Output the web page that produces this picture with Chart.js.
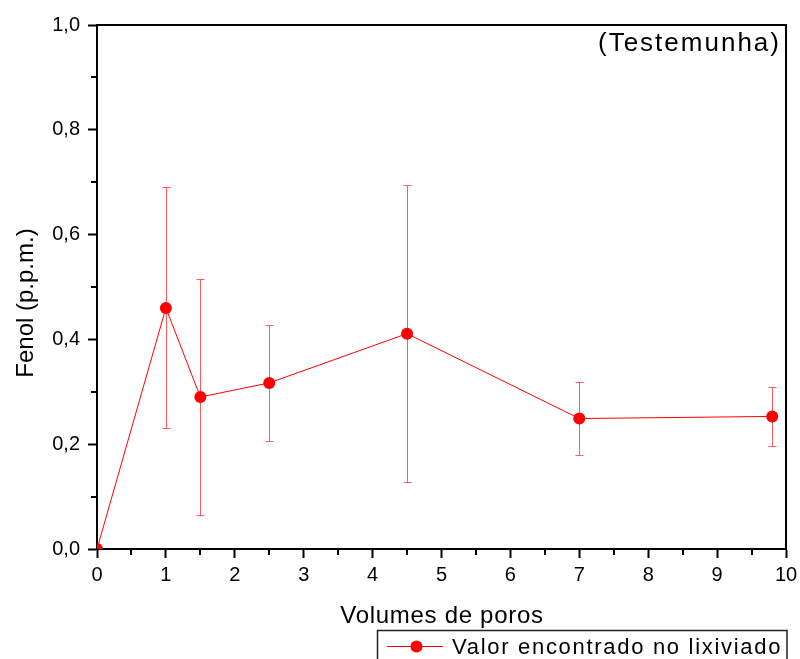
<!DOCTYPE html>
<html>
<head>
<meta charset="utf-8">
<title>Fenol (Testemunha)</title>
<script src="https://cdn.jsdelivr.net/npm/chart.js@4.4.1/dist/chart.umd.min.js"></script>
<style>
  html, body { margin: 0; padding: 0; background: #fff; }
  #wrap { width: 800px; height: 659px; }
</style>
</head>
<body>
<div id="wrap"><canvas id="chart" width="800" height="659"></canvas></div>
<script>
// Pore volumes (x) and phenol concentration in the leachate (p.p.m.)
const poreVolumes = [0, 1, 1.5, 2.5, 4.5, 7, 9.8];
const fenolMean   = [0, 0.46, 0.29, 0.317, 0.411, 0.249, 0.253];
const fenolError  = [0, 0.23, 0.226, 0.11, 0.283, 0.069, 0.057];

const seriesLabel = 'Valor encontrado no lixiviado';
const panelLabel  = '(Testemunha)';
const xTitle = 'Volumes de poros';
const yTitle = 'Fenol (p.p.m.)';

const FONT = '"Liberation Sans", Arial, Helvetica, sans-serif';
const RED = '#ff0000';
const ERR = 'rgba(255, 40, 40, 0.75)';

const points = poreVolumes.map((x, i) => ({ x: x, y: fenolMean[i] }));

// Vertical error bars with caps, drawn under the markers
const errorBars = {
  id: 'errorBars',
  beforeDatasetsDraw(chart) {
    const { ctx, scales: { x, y }, chartArea } = chart;
    ctx.save();
    ctx.beginPath();
    ctx.rect(chartArea.left, chartArea.top, chartArea.right - chartArea.left, chartArea.bottom - chartArea.top);
    ctx.clip();
    ctx.strokeStyle = ERR;
    ctx.lineWidth = 1;
    const cap = 4;
    poreVolumes.forEach((v, i) => {
      const e = fenolError[i];
      if (!e) return;
      const px = Math.round(x.getPixelForValue(v)) + 0.5;
      const top = Math.round(y.getPixelForValue(fenolMean[i] + e)) + 0.5;
      const bot = Math.round(y.getPixelForValue(fenolMean[i] - e)) + 0.5;
      ctx.beginPath();
      ctx.moveTo(px, top); ctx.lineTo(px, bot);
      ctx.moveTo(px - cap, top); ctx.lineTo(px + cap, top);
      ctx.moveTo(px - cap, bot); ctx.lineTo(px + cap, bot);
      ctx.stroke();
    });
    ctx.restore();
  }
};

// Frame, minor ticks, axis titles, panel label and legend box
const decorations = {
  id: 'decorations',
  afterDraw(chart) {
    const { ctx, scales: { x, y }, chartArea: a } = chart;
    ctx.save();
    ctx.strokeStyle = '#000';
    ctx.lineWidth = 2;
    ctx.beginPath();
    ctx.moveTo(a.left, a.top); ctx.lineTo(a.right, a.top); ctx.lineTo(a.right, a.bottom);
    ctx.stroke();

    // minor ticks
    ctx.lineWidth = 2;
    ctx.beginPath();
    for (let v = 0.5; v < 10; v += 1) {
      const px = Math.round(x.getPixelForValue(v));
      ctx.moveTo(px, a.bottom); ctx.lineTo(px, a.bottom + 6);
    }
    for (let v = 0.1; v < 1; v += 0.2) {
      const py = Math.round(y.getPixelForValue(v));
      ctx.moveTo(a.left, py); ctx.lineTo(a.left - 6, py);
    }
    ctx.stroke();

    ctx.fillStyle = '#000';
    ctx.textBaseline = 'alphabetic';

    // panel label
    ctx.font = '26px ' + FONT;
    ctx.letterSpacing = '2px';
    ctx.textAlign = 'left';
    ctx.fillText(panelLabel, 598, 51);

    // x title
    ctx.font = '24px ' + FONT;
    ctx.letterSpacing = '0.7px';
    ctx.textAlign = 'center';
    ctx.fillText(xTitle, 442, 623);

    // y title
    ctx.save();
    ctx.translate(33, 303);
    ctx.rotate(-Math.PI / 2);
    ctx.letterSpacing = '0px';
    ctx.font = '24px ' + FONT;
    ctx.textAlign = 'center';
    ctx.fillText(yTitle, 0, 0);
    ctx.restore();

    // legend
    ctx.lineWidth = 1.5;
    ctx.strokeStyle = '#222';
    ctx.strokeRect(377.5, 630.5, 409.5, 40);
    ctx.strokeStyle = RED;
    ctx.lineWidth = 1;
    ctx.beginPath();
    ctx.moveTo(387, 646.5); ctx.lineTo(443, 646.5);
    ctx.stroke();
    ctx.fillStyle = RED;
    ctx.beginPath();
    ctx.arc(416.5, 646.5, 6, 0, Math.PI * 2);
    ctx.fill();
    ctx.fillStyle = '#000';
    ctx.font = '22px ' + FONT;
    ctx.letterSpacing = '1.7px';
    ctx.textAlign = 'left';
    ctx.fillText(chart.data.datasets[0].label, 452, 654);
    ctx.restore();
  }
};

const fmt = v => v.toFixed(1).replace('.', ',');

new Chart(document.getElementById('chart'), {
  type: 'line',
  data: {
    datasets: [{
      label: seriesLabel,
      data: points,
      borderColor: RED,
      backgroundColor: RED,
      borderWidth: 1,
      pointRadius: 6,
      pointHoverRadius: 6,
      pointBorderWidth: 0,
      pointBackgroundColor: RED,
      tension: 0,
      clip: 0
    }]
  },
  options: {
    responsive: false,
    animation: false,
    events: [],
    layout: { padding: { left: 0, top: 25, right: 14, bottom: 0 } },
    plugins: { legend: { display: false }, tooltip: { enabled: false } },
    scales: {
      x: {
        type: 'linear',
        min: 0, max: 10,
        afterFit(s) { s.height = 110; s.paddingLeft = 0; s.paddingRight = 0; },
        ticks: {
          stepSize: 1,
          padding: 5,
          color: '#000',
          font: { family: FONT, size: 20 },
          maxRotation: 0,
          callback: v => String(v)
        },
        grid: { drawOnChartArea: false, drawTicks: true, tickLength: 9, tickColor: '#000', tickWidth: 2 },
        border: { display: true, color: '#000', width: 2 }
      },
      y: {
        type: 'linear',
        min: 0, max: 1,
        afterFit(s) { s.width = 97; s.paddingTop = 0; s.paddingBottom = 0; },
        ticks: {
          stepSize: 0.2,
          padding: 8,
          color: '#000',
          font: { family: FONT, size: 20 },
          callback: v => fmt(v)
        },
        grid: { drawOnChartArea: false, drawTicks: true, tickLength: 9, tickColor: '#000', tickWidth: 2 },
        border: { display: true, color: '#000', width: 2 }
      }
    }
  },
  plugins: [errorBars, decorations]
});
</script>
</body>
</html>
